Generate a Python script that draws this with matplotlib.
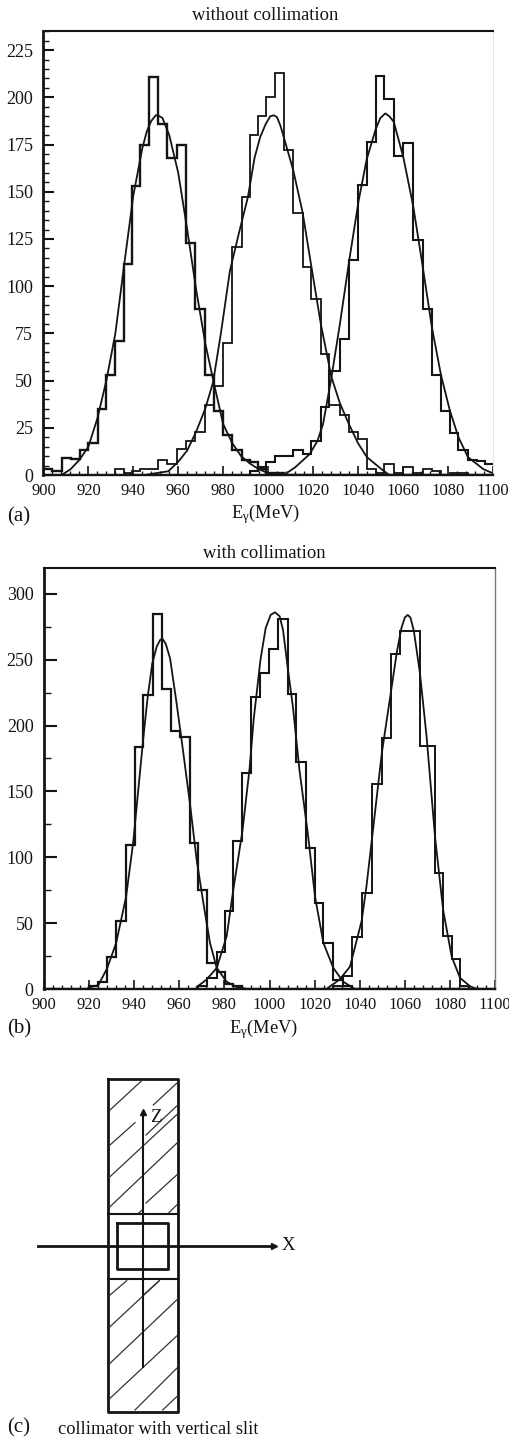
import matplotlib
matplotlib.use("Agg")
import matplotlib.pyplot as plt
from matplotlib.ticker import MultipleLocator

plt.rcParams['font.family'] = ['Liberation Serif', 'DejaVu Serif']
plt.rcParams['mathtext.fontset'] = 'stix'
plt.rcParams['mathtext.default'] = 'regular'

W, H = 510, 1440
INK = '#141414'

# ---------- panel (a): without collimation ----------
edges_a = [900, 904, 908.1, 912.1, 916.3, 920, 924.1, 927.8, 931.7, 935.9, 939.3, 943, 946.8,
           950.9, 954.9, 959.3, 963.5, 967.5, 971.9, 975.9, 980.1, 984.1, 988.3, 992, 995.5,
           999, 1002.9, 1007, 1011.3, 1015.4, 1019, 1023.5, 1027.3, 1032, 1036.2, 1040.2, 1044,
           1047.9, 1051.7, 1056.1, 1060.3, 1064.4, 1068.9, 1072.9, 1076.9, 1081, 1084.8, 1089.2,
           1092.9, 1096.6, 1100]
hist_a1 = [3, 2, 9, 8.5, 13, 17, 35, 53, 71, 112, 153, 175, 211, 186, 168, 175, 123, 88, 53, 34,
           21, 13, 8, 7, 3, 1, 1, 0, 0, 0, 0, 0, 0, 0, 0, 0, 0, 0, 0, 0, 0, 0, 0, 0, 0, 0, 0, 0, 0, 0]
hist_a2 = [0, 0, 0, 0, 0, 0, 0, 0, 3, 1, 2, 3, 3, 8, 6, 14, 18, 23, 37, 47, 70, 121, 147, 180, 190,
           200, 213, 172, 138.6, 110, 93, 64, 37, 32, 23, 19, 3, 1, 6, 1, 4, 1, 3, 2, 0, 1, 1, 0, 0, 0]
hist_a3 = [0, 0, 0, 0, 0, 0, 0, 0, 0, 0, 0, 0, 0, 0, 0, 0, 0, 0, 0, 0, 0, 0, 0, 2, 4, 7, 10, 10, 13,
           11, 18, 36, 55, 72, 114, 153.6, 176.5, 211.5, 199, 169, 176, 124.5, 88, 53, 34, 22, 13, 8,
           7.5, 6]
fit_a1_x = [908, 912, 916, 920, 924, 928, 932, 936, 940, 944, 946, 948, 950, 951, 953, 956, 960, 964,
            968, 972, 976, 980, 984, 988, 992, 996, 1000, 1003]
fit_a1_y = [0, 3, 8, 15, 30, 50, 75, 112, 148, 173, 182, 187.5, 190.5, 190.5, 189, 180, 160, 130, 98,
            70, 48, 27, 17, 10, 6, 3, 1, 0]
fit_a2_x = [945, 955.6, 960, 964, 968, 972, 975.5, 979, 983, 987, 991, 994, 996.5, 999, 1001, 1002.5,
            1004, 1005.5, 1007, 1011.3, 1015.4, 1018.8, 1023.5, 1028.2, 1032, 1036, 1040, 1044, 1051, 1054]
fit_a2_y = [0, 2, 7, 13, 23, 35, 49, 75, 108, 128, 147, 168, 179, 186, 190, 190.5, 189.5, 185, 179,
            161, 139, 114, 80, 52, 38, 27, 17, 9.5, 2.6, 0]
fit_a3_x = [1007, 1012, 1018.5, 1022, 1024.5, 1028, 1032, 1036.2, 1040.3, 1043.9, 1047.9, 1050, 1052.2,
            1054, 1056, 1060.3, 1064.7, 1068.4, 1073, 1077, 1081, 1084.8, 1089, 1096, 1100]
fit_a3_y = [0, 4, 11, 18, 27, 50, 80, 114, 145, 167, 183, 189, 191.5, 190, 187, 168, 142, 114, 78, 53,
            34, 20, 9.5, 3, 1]

# ---------- panel (b): with collimation ----------
edges_b = [900, 904, 908, 912, 916, 920.1, 924.1, 928.1, 932.1, 936.4, 940.4, 944, 948.5, 952.2,
           956.3, 960.3, 964.7, 968.4, 972.4, 976.6, 980.3, 984, 987.8, 991.6, 995.8, 999.8, 1003.9,
           1008, 1011.8, 1016, 1020.2, 1023.9, 1028.3, 1032.7, 1036.4, 1040.9, 1045.3, 1049.8, 1054,
           1058, 1062.4, 1066.7, 1070, 1073.4, 1077, 1080.8, 1084.5, 1088.5, 1092, 1096, 1100]
hist_b1 = [0, 0, 0, 0, 0, 2, 5.5, 24, 52, 109, 184, 223, 285, 228, 196, 191, 111, 75, 20, 13, 4, 2,
           0, 0, 0, 0, 0, 0, 0, 0, 0, 0, 0, 0, 0, 0, 0, 0, 0, 0, 0, 0, 0, 0, 0, 0, 0, 0, 0, 0]
hist_b2 = [0, 0, 0, 0, 0, 0, 0, 0, 0, 0, 0, 0, 0, 0, 0, 0, 0, 2, 8, 28, 59, 112, 164, 222, 240, 258,
           281, 224, 172, 107, 65.5, 35, 7, 2, 0, 0, 0, 0, 0, 0, 0, 0, 0, 0, 0, 0, 0, 0, 0, 0]
hist_b3 = [0, 0, 0, 0, 0, 0, 0, 0, 0, 0, 0, 0, 0, 0, 0, 0, 0, 0, 0, 0, 0, 0, 0, 0, 0, 0, 0, 0, 0, 0,
           0, 0, 2, 10, 39.6, 73, 155.6, 190.6, 254, 272, 272, 184.5, 184.5, 88, 40, 23, 2, 0, 0, 0]
fit_b1_x = [919.7, 924.1, 928, 932, 936.4, 939.6, 944, 946, 948, 950, 951.5, 952.5, 954, 955.9, 958.8,
            961.8, 964.7, 967.7, 970.7, 973.6, 976.6, 981, 985.4, 990]
fit_b1_y = [1, 3, 15.7, 35, 70, 112, 190, 222, 247, 260, 265, 266, 262, 251, 217, 179, 141, 98, 65,
            35, 16, 5.5, 1.5, 0]
fit_b2_x = [967.7, 972, 976.6, 981, 984, 988, 991.2, 993, 996, 998.3, 1000.5, 1002.4, 1004.5, 1006,
            1008, 1010.4, 1013.3, 1017, 1020.2, 1023.9, 1028.3, 1032.7, 1037]
fit_b2_y = [1.5, 7, 16, 40, 76, 120, 168, 205, 250, 274, 284, 286, 283, 272.6, 245, 214, 166, 118,
            70, 35, 16, 5.5, 1]
fit_b3_x = [1026, 1031, 1035.7, 1040.9, 1043, 1045.3, 1049.8, 1054.2, 1056.5, 1058.5, 1060, 1061.3,
            1062.5, 1064, 1066.7, 1069.7, 1073.4, 1077, 1080.8, 1084.5, 1089, 1092]
fit_b3_y = [1, 7, 17, 52, 78, 112, 179, 229.6, 256, 274, 282, 284, 282, 272, 240, 191, 115.6, 60, 24.5,
            8.4, 2, 0]

# ---------- panel (c): collimator sketch, page pixels ----------
c_outer_x = [108.3, 178.3, 178.3, 108.3, 108.3]
c_outer_y = [1079.3, 1079.3, 1411.7, 1411.7, 1079.3]
c_inner_x = [117.3, 167.7, 167.7, 117.3, 117.3]
c_inner_y = [1222.7, 1222.7, 1269.3, 1269.3, 1222.7]
c_bars_y = [1214, 1279.3]
c_hatch = [(110, 1110, 141.7, 1080.7), (153.3, 1105, 176.7, 1083.3), (110, 1145, 135, 1122.7),
           (146, 1135, 176.7, 1106), (110, 1176.7, 176.7, 1114.7), (110, 1206.7, 176.7, 1143.3),
           (146, 1203, 176.7, 1175), (138.3, 1213.3, 143.3, 1209.3), (168.3, 1213.3, 176.7, 1205),
           (110, 1295, 126.7, 1280.7), (143.3, 1295, 159.3, 1280.7), (110, 1326.7, 159.3, 1280.7),
           (110, 1363.3, 176.7, 1300), (110, 1398.3, 176.7, 1336), (135, 1410, 176.7, 1368.3),
           (162.7, 1410, 176.7, 1396.7)]
c_xaxis = ([38.3, 274], [1245.7, 1245.7])
c_zaxis = ([143.3, 143.3], [1366.7, 1112])


def make_axes(fig, left, right, top, bottom):
    return fig.add_axes([left / W, 1 - bottom / H, (right - left) / W, (bottom - top) / H])


def style_axes(ax, ymax, ymajor, yminor, maj_len, min_len, right_color, right_lw):
    ax.set_xlim(900, 1100)
    ax.set_ylim(0, ymax)
    ax.xaxis.set_major_locator(MultipleLocator(20))
    ax.xaxis.set_minor_locator(MultipleLocator(4))
    ax.yaxis.set_major_locator(MultipleLocator(ymajor))
    ax.yaxis.set_minor_locator(MultipleLocator(yminor))
    ax.tick_params(axis='y', which='major', direction='in', length=maj_len, width=1.5,
                   labelsize=13, pad=7.5, colors=INK)
    ax.tick_params(axis='y', which='minor', direction='in', length=min_len, width=1.0, colors=INK)
    ax.tick_params(axis='x', which='major', direction='in', length=6.5, width=1.2,
                   labelsize=12, pad=6, colors=INK)
    ax.tick_params(axis='x', which='minor', direction='in', length=3, width=1.0, colors=INK)
    ax.spines['left'].set_linewidth(2.0)
    ax.spines['top'].set_linewidth(1.5)
    ax.spines['bottom'].set_linewidth(1.7)
    ax.spines['right'].set_color(right_color)
    ax.spines['right'].set_linewidth(right_lw)
    for s in ('left', 'top', 'bottom'):
        ax.spines[s].set_color(INK)


fig = plt.figure(figsize=(W / 100, H / 100), dpi=100, facecolor='white')

ax_a = make_axes(fig, 43.5, 492.6, 30.5, 475)
for counts, lw in ((hist_a1, 1.7), (hist_a2, 1.3), (hist_a3, 1.5)):
    ax_a.stairs(counts, edges_a, color=INK, lw=lw, baseline=None)
for x, y in ((fit_a1_x, fit_a1_y), (fit_a2_x, fit_a2_y), (fit_a3_x, fit_a3_y)):
    ax_a.plot(x, y, color=INK, lw=1.3)
style_axes(ax_a, 235.4, 25, 5, 8, 4, '#e4e4e4', 0.8)

ax_b = make_axes(fig, 44, 495, 567.5, 989)
for counts, lw in ((hist_b1, 1.6), (hist_b2, 1.5), (hist_b3, 1.4)):
    ax_b.stairs(counts, edges_b, color=INK, lw=lw, baseline=None)
for x, y in ((fit_b1_x, fit_b1_y), (fit_b2_x, fit_b2_y), (fit_b3_x, fit_b3_y)):
    ax_b.plot(x, y, color=INK, lw=1.3)
style_axes(ax_b, 320, 50, 25, 9, 5, '#777777', 1.0)

# page overlay: labels and the sketch, in page pixels
page = fig.add_axes([0, 0, 1, 1], facecolor='none')
page.set_xlim(0, W)
page.set_ylim(H, 0)
page.axis('off')


def label(x, y, s, size=13.3, ha='center'):
    page.text(x, y, s, fontsize=size, ha=ha, va='center', color=INK)


label(265, 16, 'without collimation')
label(264.5, 553, 'with collimation')
label(266, 514, r'E$_{\gamma}$(MeV)')
label(264, 1029, r'E$_{\gamma}$(MeV)')
label(7, 517, '(a)', 15, 'left')
label(7, 1029, '(b)', 15, 'left')
label(7, 1428, '(c)', 15, 'left')
label(58, 1430, 'collimator with vertical slit', 13.2, 'left')
label(155.7, 1117, 'Z', 13.5)
label(288, 1246, 'X', 13.5)

page.plot(c_outer_x, c_outer_y, color=INK, lw=2.0)
page.plot(c_inner_x, c_inner_y, color=INK, lw=2.0)
for y in c_bars_y:
    page.plot([108.3, 178.3], [y, y], color=INK, lw=1.5)
for x0, y0, x1, y1 in c_hatch:
    page.plot([x0, x1], [y0, y1], color='#333333', lw=0.9)
page.plot(*c_xaxis, color=INK, lw=2.0)
page.plot(*c_zaxis, color=INK, lw=1.5)
page.plot([c_xaxis[0][1]], [c_xaxis[1][1]], marker='>', ms=5, color=INK)
page.plot([c_zaxis[0][1]], [c_zaxis[1][1]], marker='^', ms=5, color=INK)

fig.savefig('out.png', dpi=100, facecolor='white')
